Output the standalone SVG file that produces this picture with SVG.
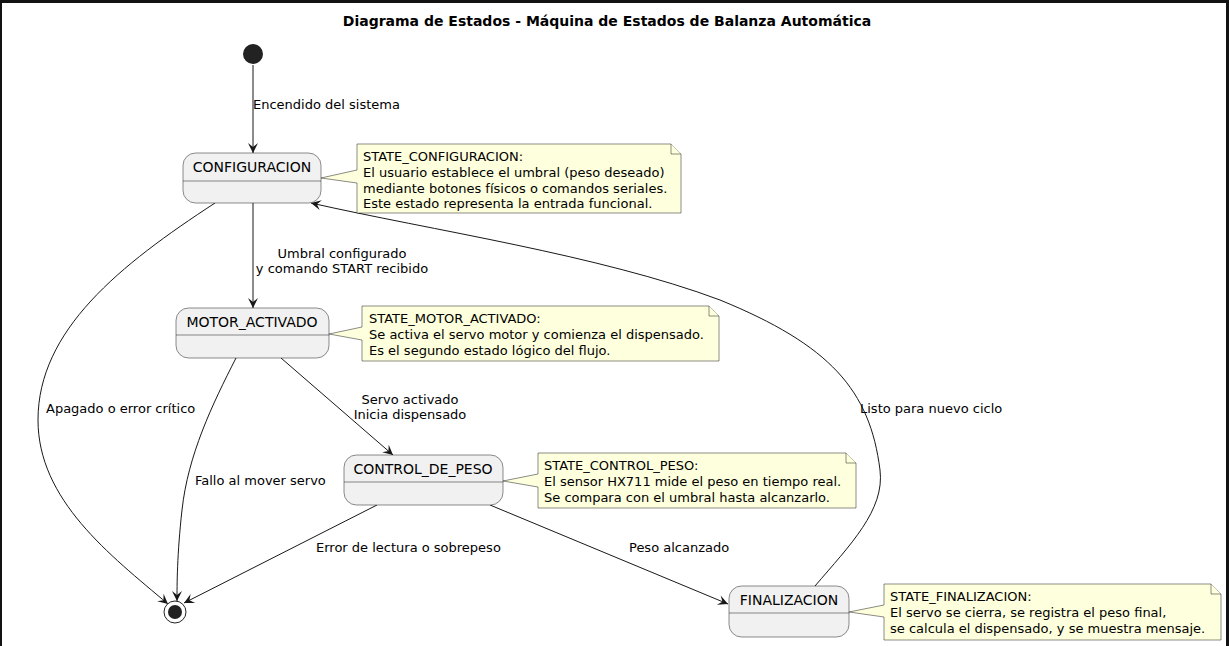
<svg xmlns="http://www.w3.org/2000/svg" width="1229" height="646" viewBox="0 0 1229 646">
<defs>
<style>
text{font-family:"DejaVu Sans",Verdana,sans-serif;fill:#000}
.title{font-size:14px;font-weight:bold}
.sn{font-size:14px}
.lb{font-size:13px}
.nt{font-size:13px}
.st{fill:#F1F1F1;stroke:#181818;stroke-width:0.5}
.dv{stroke:#181818;stroke-width:0.5}
.note{fill:#FEFFDD;stroke:#181818;stroke-width:0.5}
.edge{fill:none;stroke:#181818;stroke-width:1}
</style>
<marker id="arr" markerWidth="12" markerHeight="10" refX="10" refY="5" orient="auto" markerUnits="userSpaceOnUse" overflow="visible">
<path d="M0,0 L10,5 L0,10 L4,5 Z" fill="#181818"/>
</marker>
</defs>
<rect x="0" y="0" width="1229" height="646" fill="#121212"/>
<rect x="2" y="3" width="1224" height="643" fill="#FFFFFF"/>
<text class="title" x="607" y="26" text-anchor="middle">Diagrama de Estados - Máquina de Estados de Balanza Automática</text>

<g id="connectors">
<path class="edge" d="M253,65 L253,153" marker-end="url(#arr)"/>
<text class="lb" x="253" y="109">Encendido del sistema</text>
<path class="edge" d="M253,203 L253,308" marker-end="url(#arr)"/>
<text class="lb" x="342" y="258" text-anchor="middle">Umbral configurado</text>
<text class="lb" x="342" y="273" text-anchor="middle">y comando START recibido</text>
<path class="edge" d="M281,358 L393,455" marker-end="url(#arr)"/>
<text class="lb" x="410" y="404" text-anchor="middle">Servo activado</text>
<text class="lb" x="410" y="419" text-anchor="middle">Inicia dispensado</text>
<path class="edge" d="M377,505 L184,603" marker-end="url(#arr)"/>
<text class="lb" x="316" y="552">Error de lectura o sobrepeso</text>
<path class="edge" d="M490,505 L728,604" marker-end="url(#arr)"/>
<text class="lb" x="629" y="552">Peso alcanzado</text>
<path class="edge" d="M215,203 C120,265 38,330 38,420 C38,500 110,555 168,604" marker-end="url(#arr)"/>
<text class="lb" x="46" y="413">Apagado o error crítico</text>
<path class="edge" d="M236,358 C212,405 188,455 182,510 C177,555 177,585 177,601" marker-end="url(#arr)"/>
<text class="lb" x="195" y="485">Fallo al mover servo</text>
<path class="edge" d="M815,586 C850,545 885,510 880,470 C870,390 830,345 720,300 C600,255 430,230 311,203" marker-end="url(#arr)"/>
<text class="lb" x="860" y="413">Listo para nuevo ciclo</text>
</g>

<g id="start">
<circle cx="253" cy="54" r="10" fill="#222222"/>
</g>
<g id="end">
<circle cx="175" cy="612" r="11" fill="#FFFFFF" stroke="#222222" stroke-width="1"/>
<circle cx="175" cy="612" r="7" fill="#222222"/>
</g>

<g id="CONFIGURACION">
<rect class="st" x="183" y="153" width="138" height="50" rx="12.5"/>
<line class="dv" x1="183" y1="181" x2="321" y2="181"/>
<text class="sn" x="252" y="172" text-anchor="middle">CONFIGURACION</text>
</g>
<g id="note_config">
<path class="note" d="M321,178 L357,170 L357,144 L671,144 L681,154 L681,213 L357,213 L357,183 Z"/>
<path class="note" d="M671,144 L671,154 L681,154"/>
<text class="nt" x="363" y="161">STATE_CONFIGURACION:</text>
<text class="nt" x="363" y="177">El usuario establece el umbral (peso deseado)</text>
<text class="nt" x="363" y="193">mediante botones físicos o comandos seriales.</text>
<text class="nt" x="363" y="208">Este estado representa la entrada funcional.</text>
</g>

<g id="MOTOR_ACTIVADO">
<rect class="st" x="176" y="308" width="153" height="50" rx="12.5"/>
<line class="dv" x1="176" y1="335" x2="329" y2="335"/>
<text class="sn" x="252" y="327" text-anchor="middle">MOTOR_ACTIVADO</text>
</g>
<g id="note_motor">
<path class="note" d="M329,334 L362,327 L362,306 L709,306 L719,316 L719,361 L362,361 L362,340 Z"/>
<path class="note" d="M709,306 L709,316 L719,316"/>
<text class="nt" x="369" y="323">STATE_MOTOR_ACTIVADO:</text>
<text class="nt" x="369" y="339">Se activa el servo motor y comienza el dispensado.</text>
<text class="nt" x="369" y="355">Es el segundo estado lógico del flujo.</text>
</g>

<g id="CONTROL_DE_PESO">
<rect class="st" x="344" y="455" width="159" height="50" rx="12.5"/>
<line class="dv" x1="344" y1="482" x2="503" y2="482"/>
<text class="sn" x="423" y="474" text-anchor="middle">CONTROL_DE_PESO</text>
</g>
<g id="note_control">
<path class="note" d="M503,481 L538,474 L538,453 L846,453 L856,463 L856,508 L538,508 L538,487 Z"/>
<path class="note" d="M846,453 L846,463 L856,463"/>
<text class="nt" x="544" y="470">STATE_CONTROL_PESO:</text>
<text class="nt" x="544" y="486">El sensor HX711 mide el peso en tiempo real.</text>
<text class="nt" x="544" y="502">Se compara con el umbral hasta alcanzarlo.</text>
</g>

<g id="FINALIZACION">
<rect class="st" x="729" y="586" width="120" height="51" rx="12.5"/>
<line class="dv" x1="729" y1="613" x2="849" y2="613"/>
<text class="sn" x="789" y="605" text-anchor="middle">FINALIZACION</text>
</g>
<g id="note_final">
<path class="note" d="M849,612 L884,605 L884,584 L1211,584 L1221,594 L1221,640 L884,640 L884,617 Z"/>
<path class="note" d="M1211,584 L1211,594 L1221,594"/>
<text class="nt" x="890" y="601">STATE_FINALIZACION:</text>
<text class="nt" x="890" y="617">El servo se cierra, se registra el peso final,</text>
<text class="nt" x="890" y="633">se calcula el dispensado, y se muestra mensaje.</text>
</g>
</svg>
